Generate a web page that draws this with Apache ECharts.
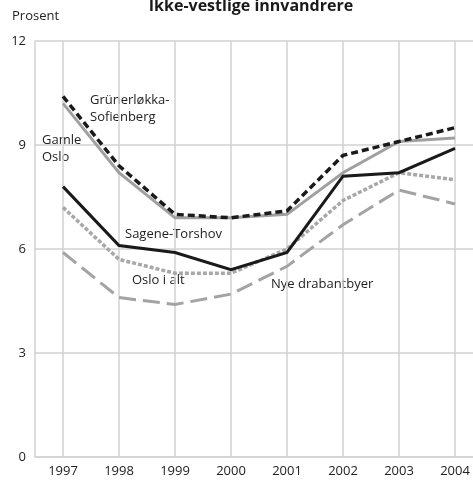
<!DOCTYPE html>
<html>
<head>
<meta charset="utf-8">
<script src="https://cdn.jsdelivr.net/npm/echarts@6/dist/echarts.min.js"></script>
<style>
  html, body { margin: 0; padding: 0; background: #fff; }
  #chart { width: 473px; height: 481px; }
</style>
</head>
<body>
<div id="chart"></div>
<script>
// Data
const years = ['1997', '1998', '1999', '2000', '2001', '2002', '2003', '2004'];
const grunerlokka = [10.4, 8.4, 7.0, 6.9, 7.1, 8.7, 9.1, 9.5];
const gamleOslo = [10.2, 8.2, 6.9, 6.9, 7.0, 8.2, 9.1, 9.2];
const sageneTorshov = [7.8, 6.1, 5.9, 5.4, 5.9, 8.1, 8.2, 8.9];
const osloIAlt = [7.2, 5.7, 5.3, 5.3, 6.0, 7.4, 8.2, 8.0];
const nyeDrabantbyer = [5.9, 4.6, 4.4, 4.7, 5.5, 6.7, 7.7, 7.3];
const yTicks = [0, 3, 6, 9, 12];

const FONT = '"Open Sans", "Noto Sans", sans-serif';
const GRID_COLOR = '#d2d2d2';
const PLOT_HEIGHT = 416;

const chart = echarts.init(document.getElementById('chart'));

function lineSeries(name, data, color, width, dash, z) {
    return {
        name: name,
        type: 'line',
        data: data,
        symbol: 'none',
        z: z,
        lineStyle: { color: color, width: width, type: dash, cap: 'butt', join: 'miter' },
        animation: false
    };
}

chart.setOption({
    animation: false,
    title: {
        text: 'Ikke-vestlige innvandrere',
        left: 246,
        textAlign: 'center',
        top: -7,
        textStyle: { fontFamily: FONT, fontSize: 16, fontWeight: 'bold', color: '#1a1a1a' }
    },
    // plot runs past the right edge, as in the original
    grid: { left: 35, top: 41, width: 448, height: PLOT_HEIGHT, outerBoundsMode: 'none' },
    xAxis: {
        type: 'category',
        data: years,
        boundaryGap: true,
        axisLine: { show: true, lineStyle: { color: GRID_COLOR, width: 1.5 } },
        // ticks through the whole plot give the vertical grid lines at each year
        axisTick: { show: true, alignWithLabel: true, inside: true, length: PLOT_HEIGHT,
            lineStyle: { color: GRID_COLOR, width: 1.5 } },
        splitLine: { show: false },
        axisLabel: { fontFamily: FONT, fontSize: 13, color: '#222', margin: 8 }
    },
    yAxis: {
        type: 'value',
        min: yTicks[0],
        max: yTicks[yTicks.length - 1],
        interval: 3,
        axisLine: { show: true, lineStyle: { color: GRID_COLOR, width: 1.5 } },
        axisTick: { show: false },
        splitLine: { show: true, lineStyle: { color: GRID_COLOR, width: 1.5 } },
        axisLabel: { fontFamily: FONT, fontSize: 13, color: '#222', margin: 9 }
    },
    graphic: [
        { type: 'text', left: 12, top: 10, style: { text: 'Prosent', font: '13px ' + FONT, fill: '#222' } },
        { type: 'text', left: 90, top: 92, style: { text: 'Grünerløkka-\nSofienberg', font: '13px ' + FONT, fill: '#222', lineHeight: 17 } },
        { type: 'text', left: 42, top: 132, style: { text: 'Gamle\nOslo', font: '13px ' + FONT, fill: '#222', lineHeight: 17 } },
        { type: 'text', left: 125, top: 228, style: { text: 'Sagene-Torshov', font: '13px ' + FONT, fill: '#222' } },
        { type: 'text', left: 132, top: 274, style: { text: 'Oslo i alt', font: '13px ' + FONT, fill: '#222' } },
        { type: 'text', left: 271, top: 278, style: { text: 'Nye drabantbyer', font: '13px ' + FONT, fill: '#222' } }
    ],
    series: [
        lineSeries('Nye drabantbyer', nyeDrabantbyer, '#a3a3a3', 3, [17, 7], 2),
        lineSeries('Oslo i alt', osloIAlt, '#a8a8a8', 3.5, [4, 2], 3),
        lineSeries('Gamle Oslo', gamleOslo, '#a0a0a0', 3, 'solid', 4),
        lineSeries('Sagene-Torshov', sageneTorshov, '#1a1a1a', 3, 'solid', 5),
        lineSeries('Grünerløkka-Sofienberg', grunerlokka, '#1a1a1a', 3.5, [7, 4], 6)
    ]
});
</script>
</body>
</html>
